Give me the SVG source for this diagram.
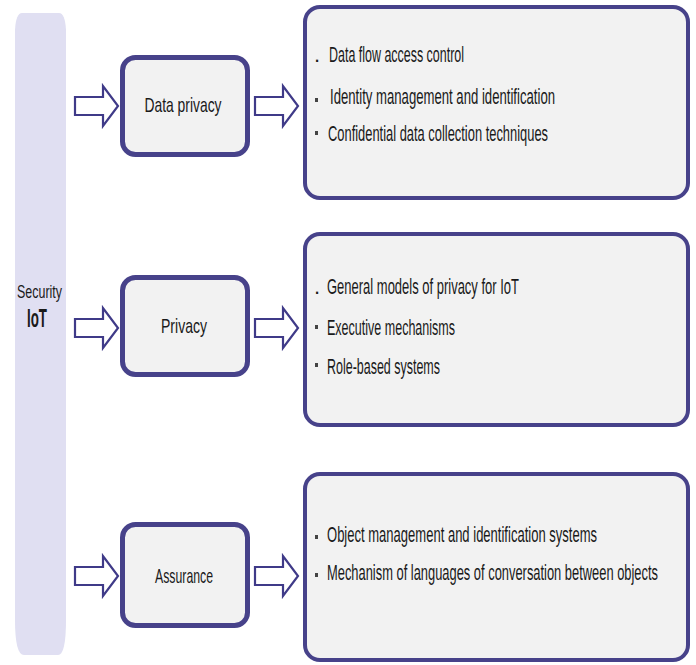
<svg xmlns="http://www.w3.org/2000/svg" width="696" height="665" viewBox="0 0 696 665">
<style>
.mid{fill:#f2f2f2;stroke:#47428a;stroke-width:5}
.big{fill:#f2f2f2;stroke:#47428a;stroke-width:4}
.arr{fill:#ffffff;stroke:#3f3a88;stroke-width:2.2;stroke-linejoin:miter}
.t{font-family:"Liberation Sans",Arial,sans-serif;font-size:22px;fill:#1a1a1a}
.lbl{font-family:"Liberation Sans",Arial,sans-serif;font-size:21px;fill:#1a1a1a;text-anchor:middle}
.b{fill:#444444}
</style>
<rect width="696" height="665" fill="#ffffff"/>
<g id="security-iot">
<path d="M15,30 Q16,13 22,13 L59,13 Q65,13 66,30 L66,620 Q66,655 58,655 L24,655 Q15,655 15,620 Z" fill="#e0dff2"/>
<text x="17" y="298" font-family="'Liberation Sans',Arial,sans-serif" font-size="19" fill="#1a1a1a" textLength="45" lengthAdjust="spacingAndGlyphs">Security</text>
<text x="27" y="327" font-family="'Liberation Sans',Arial,sans-serif" font-size="26" font-weight="bold" fill="#1a1a1a" textLength="20" lengthAdjust="spacingAndGlyphs">IoT</text>
</g>
<g id="connectors">
<polygon class="arr" points="75,97 103,97 103,86 118,106 103,126 103,115 75,115"/>
<polygon class="arr" points="255,97 283,97 283,86 298,106 283,126 283,115 255,115"/>
<polygon class="arr" points="75,319 103,319 103,308 118,328 103,348 103,337 75,337"/>
<polygon class="arr" points="255,319 283,319 283,308 298,328 283,348 283,337 255,337"/>
<polygon class="arr" points="75,567 103,567 103,556 118,576 103,596 103,585 75,585"/>
<polygon class="arr" points="255,567 283,567 283,556 298,576 283,596 283,585 255,585"/>
</g>
<g id="data-privacy">
<rect class="mid" x="122.5" y="57.5" width="125" height="97" rx="13"/>
<text class="lbl" x="183" y="112" textLength="77" lengthAdjust="spacingAndGlyphs">Data privacy</text>
</g>
<g id="privacy">
<rect class="mid" x="122.5" y="277.5" width="125" height="97" rx="13"/>
<text class="lbl" x="184" y="333" textLength="46" lengthAdjust="spacingAndGlyphs">Privacy</text>
</g>
<g id="assurance">
<rect class="mid" x="122.5" y="524.5" width="125" height="101" rx="13"/>
<text class="lbl" x="184" y="583" textLength="58" lengthAdjust="spacingAndGlyphs">Assurance</text>
</g>
<g id="data-privacy-details">
<rect class="big" x="305" y="7" width="383" height="191" rx="15"/>
<text class="t" x="314" y="62">.</text>
<text class="t" x="329" y="62" textLength="135" lengthAdjust="spacingAndGlyphs">Data flow access control</text>
<rect class="b" x="315" y="98" width="3" height="4"/>
<text class="t" x="330" y="104" textLength="225" lengthAdjust="spacingAndGlyphs">Identity management and identification</text>
<rect class="b" x="315" y="131" width="3" height="4"/>
<text class="t" x="328" y="141" textLength="220" lengthAdjust="spacingAndGlyphs">Confidential data collection techniques</text>
</g>
<g id="privacy-details">
<rect class="big" x="305" y="234" width="383" height="191" rx="15"/>
<text class="t" x="314" y="294">.</text>
<text class="t" x="327" y="294" textLength="192" lengthAdjust="spacingAndGlyphs">General models of privacy for IoT</text>
<rect class="b" x="315" y="325" width="3" height="4"/>
<text class="t" x="327" y="335" textLength="128" lengthAdjust="spacingAndGlyphs">Executive mechanisms</text>
<rect class="b" x="315" y="363" width="3" height="4"/>
<text class="t" x="327" y="374" textLength="113" lengthAdjust="spacingAndGlyphs">Role-based systems</text>
</g>
<g id="assurance-details">
<rect class="big" x="305" y="474" width="383" height="186" rx="15"/>
<rect class="b" x="315" y="535" width="3" height="4"/>
<text class="t" x="327" y="542" textLength="270" lengthAdjust="spacingAndGlyphs">Object management and identification systems</text>
<rect class="b" x="315" y="573" width="3" height="4"/>
<text class="t" x="327" y="580" textLength="331" lengthAdjust="spacingAndGlyphs">Mechanism of languages of conversation between objects</text>
</g>
</svg>
